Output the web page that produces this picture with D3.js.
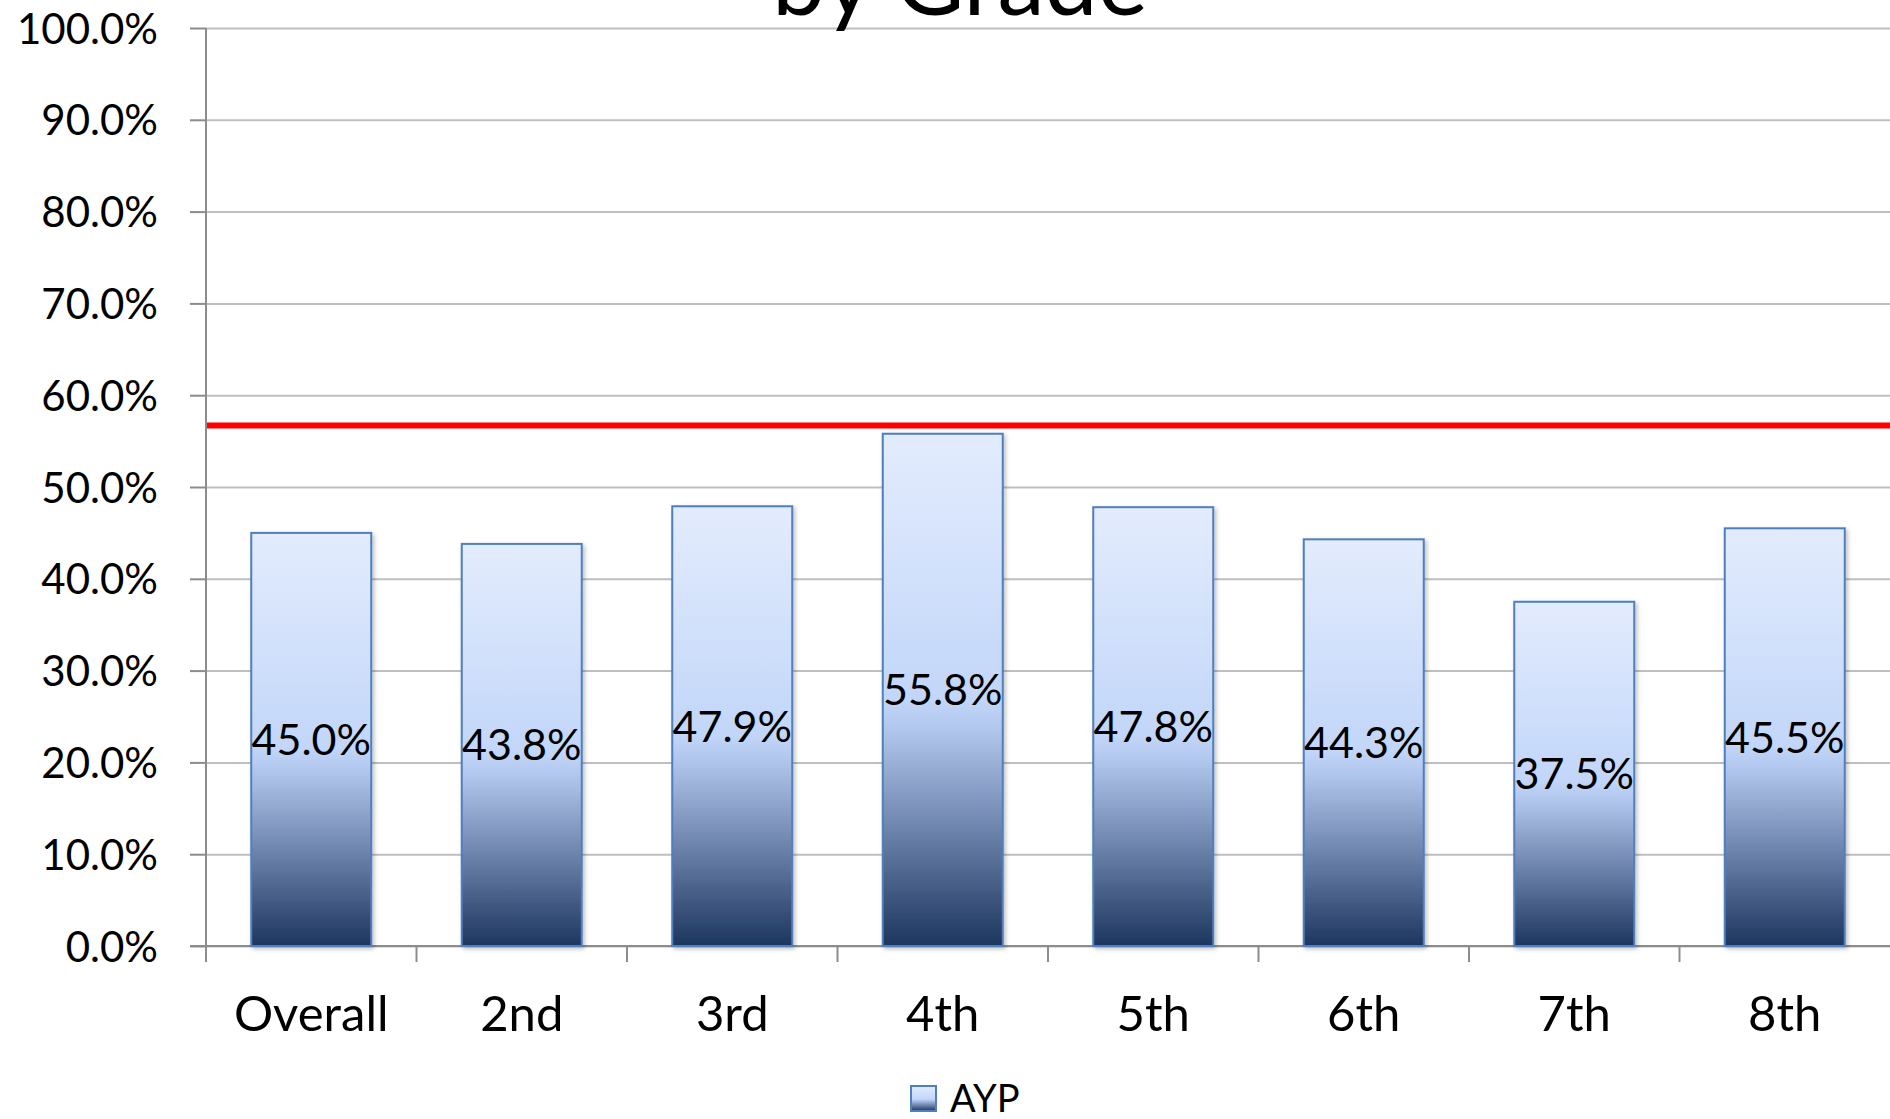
<!DOCTYPE html>
<html>
<head>
<meta charset="utf-8">
<script src="https://cdn.jsdelivr.net/npm/d3@7"></script>
<style>
  body { margin: 0; background: #fff; overflow: hidden; }
  text { font-family: Lato, "Open Sans", sans-serif; fill: #000; }
</style>
</head>
<body>
<div id="chart"></div>
<script>
// Chart data
const grades = ["Overall", "2nd", "3rd", "4th", "5th", "6th", "7th", "8th"];
const aypValues = [0.450, 0.438, 0.479, 0.558, 0.478, 0.443, 0.375, 0.455];
const yTicks = [0, 0.1, 0.2, 0.3, 0.4, 0.5, 0.6, 0.7, 0.8, 0.9, 1.0];
const targetValue = [0.567];
const seriesName = "AYP";
const titleLine = "by Grade";

const W = 1890, H = 1119;
const plotLeft = 206, plotRight = 1890, plotTop = 28, plotBottom = 946;

const svg = d3.select("#chart")
    .append("svg")
    .attr("width", W)
    .attr("height", H);

const defs = svg.append("defs");

// Bar gradient (light at top, navy at bottom)
const grad = defs.append("linearGradient")
    .attr("id", "barGrad")
    .attr("x1", 0).attr("y1", 0).attr("x2", 0).attr("y2", 1);
grad.append("stop").attr("offset", "0%").attr("stop-color", "#e3ecfd");
grad.append("stop").attr("offset", "52%").attr("stop-color", "#c2d6f9");
grad.append("stop").attr("offset", "58%").attr("stop-color", "#b0c5ec");
grad.append("stop").attr("offset", "100%").attr("stop-color", "#1d365f");

const shadow = defs.append("filter")
    .attr("id", "shadow")
    .attr("x", "-10%").attr("y", "-10%").attr("width", "130%").attr("height", "130%");
shadow.append("feDropShadow")
    .attr("dx", 2).attr("dy", 2).attr("stdDeviation", 2)
    .attr("flood-color", "#000").attr("flood-opacity", 0.25);

// Scales
const x = d3.scaleBand()
    .domain(grades)
    .range([plotLeft, plotRight])
    .paddingInner(0.43)
    .paddingOuter(0.215);

const y = d3.scaleLinear()
    .domain([0, 1])
    .range([plotBottom, plotTop]);

// Grid lines
svg.append("g")
    .attr("transform", `translate(${plotLeft},0)`)
    .call(d3.axisLeft(y).tickValues(yTicks).tickSize(-(plotRight - plotLeft)).tickFormat(""))
    .call(g => g.select(".domain").remove())
    .call(g => g.selectAll("line").attr("stroke", "#bfbfbf").attr("stroke-width", 2));

// Title (mostly cut off at the top)
svg.append("text")
    .attr("x", 960)
    .attr("y", 15)
    .attr("text-anchor", "middle")
    .style("font-size", "95px")
    .text(titleLine);

// Y axis
const yAxis = svg.append("g")
    .attr("transform", `translate(${plotLeft},0)`)
    .call(d3.axisLeft(y).tickValues(yTicks).tickSize(16).tickPadding(32).tickFormat(d3.format(".1%")));
yAxis.select(".domain").remove();
yAxis.selectAll("line").attr("stroke", "#8c8c8c").attr("stroke-width", 2);
yAxis.selectAll("text")
    .style("font-size", "42px")
    .attr("dy", "0.36em");

svg.append("line")
    .attr("x1", plotLeft).attr("x2", plotLeft)
    .attr("y1", plotTop).attr("y2", plotBottom + 16)
    .attr("stroke", "#8c8c8c").attr("stroke-width", 2);

// X axis line and category boundary ticks
svg.append("line")
    .attr("x1", plotLeft - 16).attr("x2", plotRight)
    .attr("y1", plotBottom).attr("y2", plotBottom)
    .attr("stroke", "#8c8c8c").attr("stroke-width", 2);

svg.selectAll(".xtick")
    .data(grades)
    .enter().append("line")
    .attr("class", "xtick")
    .attr("x1", d => x(d) - x.step() * x.paddingInner() / 2)
    .attr("x2", d => x(d) - x.step() * x.paddingInner() / 2)
    .attr("y1", plotBottom)
    .attr("y2", plotBottom + 16)
    .attr("stroke", "#8c8c8c").attr("stroke-width", 2);

// Category labels
svg.append("g")
    .attr("transform", `translate(0,${plotBottom})`)
    .call(d3.axisBottom(x).tickSize(0).tickPadding(50))
    .call(g => g.select(".domain").remove())
    .call(g => g.selectAll("text").style("font-size", "49px"));

// Bars
svg.selectAll(".bar")
    .data(aypValues)
    .enter().append("rect")
    .attr("class", "bar")
    .attr("x", (d, i) => x(grades[i]))
    .attr("y", d => y(d))
    .attr("width", x.bandwidth())
    .attr("height", d => plotBottom - y(d))
    .attr("fill", "url(#barGrad)")
    .attr("stroke", "#4f7fbc")
    .attr("stroke-width", 2)
    .attr("filter", "url(#shadow)");

// Value labels, centred in each bar
svg.selectAll(".val")
    .data(aypValues)
    .enter().append("text")
    .attr("class", "val")
    .attr("x", (d, i) => x(grades[i]) + x.bandwidth() / 2)
    .attr("y", d => (y(d) + plotBottom) / 2)
    .attr("dy", "0.36em")
    .attr("text-anchor", "middle")
    .style("font-size", "43px")
    .text(d => d3.format(".1%")(d));

// Target line
svg.selectAll(".target")
    .data(targetValue)
    .enter().append("line")
    .attr("class", "target")
    .attr("x1", plotLeft + 1).attr("x2", plotRight)
    .attr("y1", d => y(d)).attr("y2", d => y(d))
    .attr("stroke", "#ff0000")
    .attr("stroke-width", 6);

// Legend
const legend = svg.append("g").attr("transform", "translate(911,1086)");
legend.append("rect")
    .attr("width", 25).attr("height", 25)
    .attr("fill", "url(#barGrad)")
    .attr("stroke", "#4f7fbc").attr("stroke-width", 2);
legend.append("text")
    .attr("x", 39)
    .attr("y", 26)
    .style("font-size", "38px")
    .text(seriesName);
</script>
</body>
</html>
